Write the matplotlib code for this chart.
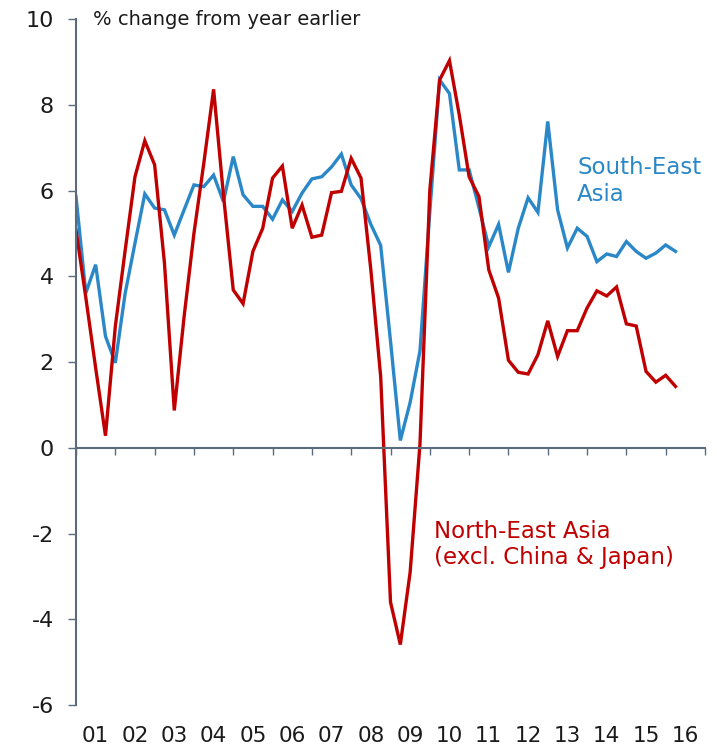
"""
Quarterly GDP growth: South-East Asia vs North-East Asia (excl. China & Japan).
"""

import matplotlib
matplotlib.use("Agg")
import matplotlib.pyplot as plt
import matplotlib.transforms as mtransforms

# quarters 2001Q1 .. 2016Q2
quarters = [(y, q) for y in range(2001, 2017) for q in range(1, 5)][:62]

south_east = [
    5.86, 3.61, 4.27, 2.60, 1.98, 3.60, 4.77, 5.92, 5.59, 5.55, 4.96, 5.55,
    6.13, 6.09, 6.36, 5.74, 6.79, 5.90, 5.63, 5.63, 5.33, 5.78, 5.51, 5.94,
    6.27, 6.32, 6.55, 6.85, 6.13, 5.81, 5.21, 4.72, 2.49, 0.17, 1.06, 2.26,
    5.50, 8.58, 8.26, 6.48, 6.48, 5.60, 4.69, 5.21, 4.09, 5.12, 5.83, 5.49,
    7.61, 5.55, 4.66, 5.12, 4.93, 4.34, 4.52, 4.46, 4.81, 4.58, 4.42, 4.54,
    4.73, 4.58,
]

north_east = [
    5.08, 3.50, 1.86, 0.28, 2.83, 4.60, 6.32, 7.16, 6.60, 4.31, 0.87, 3.06,
    5.00, 6.63, 8.36, 5.90, 3.68, 3.36, 4.58, 5.12, 6.29, 6.57, 5.12, 5.66,
    4.91, 4.96, 5.95, 5.98, 6.75, 6.29, 4.15, 1.66, -3.60, -4.59, -2.90, 0.09,
    6.00, 8.58, 9.03, 7.76, 6.32, 5.86, 4.15, 3.49, 2.04, 1.76, 1.72, 2.17,
    2.96, 2.13, 2.73, 2.73, 3.26, 3.66, 3.54, 3.75, 2.89, 2.84, 1.78, 1.53,
    1.69, 1.43,
]

year_ticks = list(range(2001, 2018))
year_labels = ["01", "02", "03", "04", "05", "06", "07", "08",
               "09", "10", "11", "12", "13", "14", "15", "16"]
y_ticks = [-6, -4, -2, 0, 2, 4, 6, 8, 10]

BLUE = "#2b88c8"
RED = "#c00000"
AXIS = "#5a6b7e"
TEXT = "#1a1a1a"

plt.rcParams["font.family"] = ["DejaVu Sans"]
plt.rcParams["axes.unicode_minus"] = False

x = [y + (q - 1) / 4 for y, q in quarters]

fig = plt.figure(figsize=(7.17, 7.5), dpi=100)
ax = fig.add_axes([76 / 717, 45 / 750, 629 / 717, 686 / 750])

ax.plot(x, south_east, color=BLUE, linewidth=2.4, solid_joinstyle="miter")
ax.plot(x, north_east, color=RED, linewidth=2.4, solid_joinstyle="miter")

ax.set_xlim(2001, 2017)
ax.set_ylim(-6, 10)

for side in ["top", "right"]:
    ax.spines[side].set_visible(False)
ax.spines["left"].set_color(AXIS)
ax.spines["left"].set_linewidth(1.5)
ax.spines["bottom"].set_position(("data", 0))
ax.spines["bottom"].set_color(AXIS)
ax.spines["bottom"].set_linewidth(1.5)

ax.set_yticks(y_ticks)
ax.set_yticklabels([str(v) for v in y_ticks])
ax.tick_params(axis="y", direction="out", length=6, width=1.0,
               color=AXIS, labelsize=16, pad=10, labelcolor=TEXT)

ax.set_xticks(year_ticks)
ax.set_xticklabels([])
ax.tick_params(axis="x", direction="out", length=5, width=1.0, color=AXIS)

trans = mtransforms.blended_transform_factory(ax.transData, ax.transAxes)
for yr, lab in zip(year_ticks[:-1], year_labels):
    ax.text(yr + 0.5, -0.045, lab, transform=trans, ha="center", va="center",
            fontsize=15.5, color=TEXT)

ax.text(2001.43, 10, "% change from year earlier", ha="left", va="center",
        fontsize=14, color=TEXT)

ax.text(2013.75, 6.22, "South-East\nAsia", ha="left", va="center",
        fontsize=16.5, color=BLUE, linespacing=1.2)
ax.text(2010.1, -2.26, "North-East Asia\n(excl. China & Japan)", ha="left",
        va="center", fontsize=16.5, color=RED, linespacing=1.2)

fig.savefig("out.png", dpi=100)
plt.close(fig)
